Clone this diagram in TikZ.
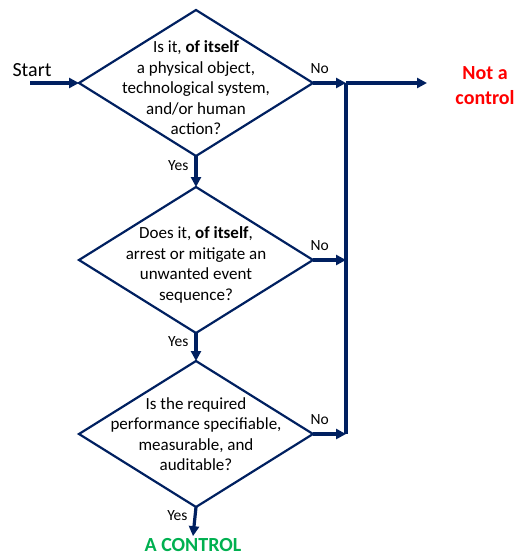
\documentclass[tikz,border=0pt]{standalone}
\usepackage{fontspec}
\setmainfont{Carlito}
\usetikzlibrary{shapes.geometric, positioning, arrows.meta}
\definecolor{navy}{RGB}{0,32,96}
\definecolor{ctlgreen}{RGB}{0,176,80}
\tikzset{
    node distance=30pt, % Gap between the question diamonds
    decision/.style={ % Sets the properties for each question
        diamond,
        draw=navy,
        line width=2.2pt,
        minimum width=234pt,
        minimum height=146pt,
        inner sep=0pt,
        outer sep=0pt
    },
    qtext/.style={align=center, font=\fontsize{17}{20.5}\selectfont},
    flow/.style={ % Sets the properties for each connector
        draw=navy,
        line width=3.2pt,
        -{Triangle[length=10pt,width=10pt]}
    },
    ans/.style={font=\fontsize{15.5}{18}\selectfont, inner sep=2pt},
}

\begin{document}
\begin{tikzpicture}[x=1pt,y=1pt]
            \useasboundingbox (0,0) rectangle (517,-557);
            \node[decision]                   (q1) at (196,-83) {};
            \node[decision, below=31pt of q1] (q2) {};
            \node[decision, below=28pt of q2] (q3) {};
            \node[qtext, yshift=-5pt] (q1text) at (q1)
                {Is it, \textbf{of itself}\\ a physical object,\\ technological system,\\ and/or human\\ action?};
            \node[qtext, yshift=-5pt] (q2text) at (q2)
                {Does it, \textbf{of itself},\\ arrest or mitigate an\\ unwanted event\\ sequence?};
            \node[qtext]              (q3text) at (q3)
                {Is the required\\ performance specifiable,\\ measurable, and\\ auditable?};

            \node[font=\fontsize{20}{24}\selectfont] (start) at (32,-70) {Start};
            \node[font=\bfseries\fontsize{20}{25}\selectfont, text=red, align=center]
                (notctl) at (485,-86) {Not a\\ control};
            \node[font=\bfseries\fontsize{20}{24}\selectfont, text=ctlgreen, inner sep=2pt]
                (ctl) at (193,-545) {A CONTROL};

            \coordinate (in)   at (30,-83);
            \coordinate (bus1) at (346,-83);
            \coordinate (bus2) at (bus1 |- q2.east);
            \coordinate (bus3) at (bus1 |- q3.east);
            \coordinate (out)  at (427,-83);

            \draw[flow] (in) -- (q1.west);
            \draw[flow] (q1.south) -- node[ans, left, pos=.3, xshift=-4pt]{Yes} (q2.north);
            \draw[flow] (q2.south) -- node[ans, left, pos=.3, xshift=-4pt]{Yes} (q3.north);
            \draw[flow] (q3.south) -- node[ans, left, pos=.3, xshift=-4pt]{Yes} (ctl.north);
            \draw[flow] (q1.east)  -- node[ans, above, pos=.2, yshift=6pt]{No} (bus1);
            \draw[flow] (q2.east)  -- node[ans, above, pos=.2, yshift=6pt]{No} (bus2);
            \draw[flow] (q3.east)  -- node[ans, above, pos=.2, yshift=6pt]{No} (bus3);
            \draw[flow] (bus1) -- (out);
            \draw[navy, line width=3.2pt] (bus1) -- (bus3);
\end{tikzpicture}
\end{document}
